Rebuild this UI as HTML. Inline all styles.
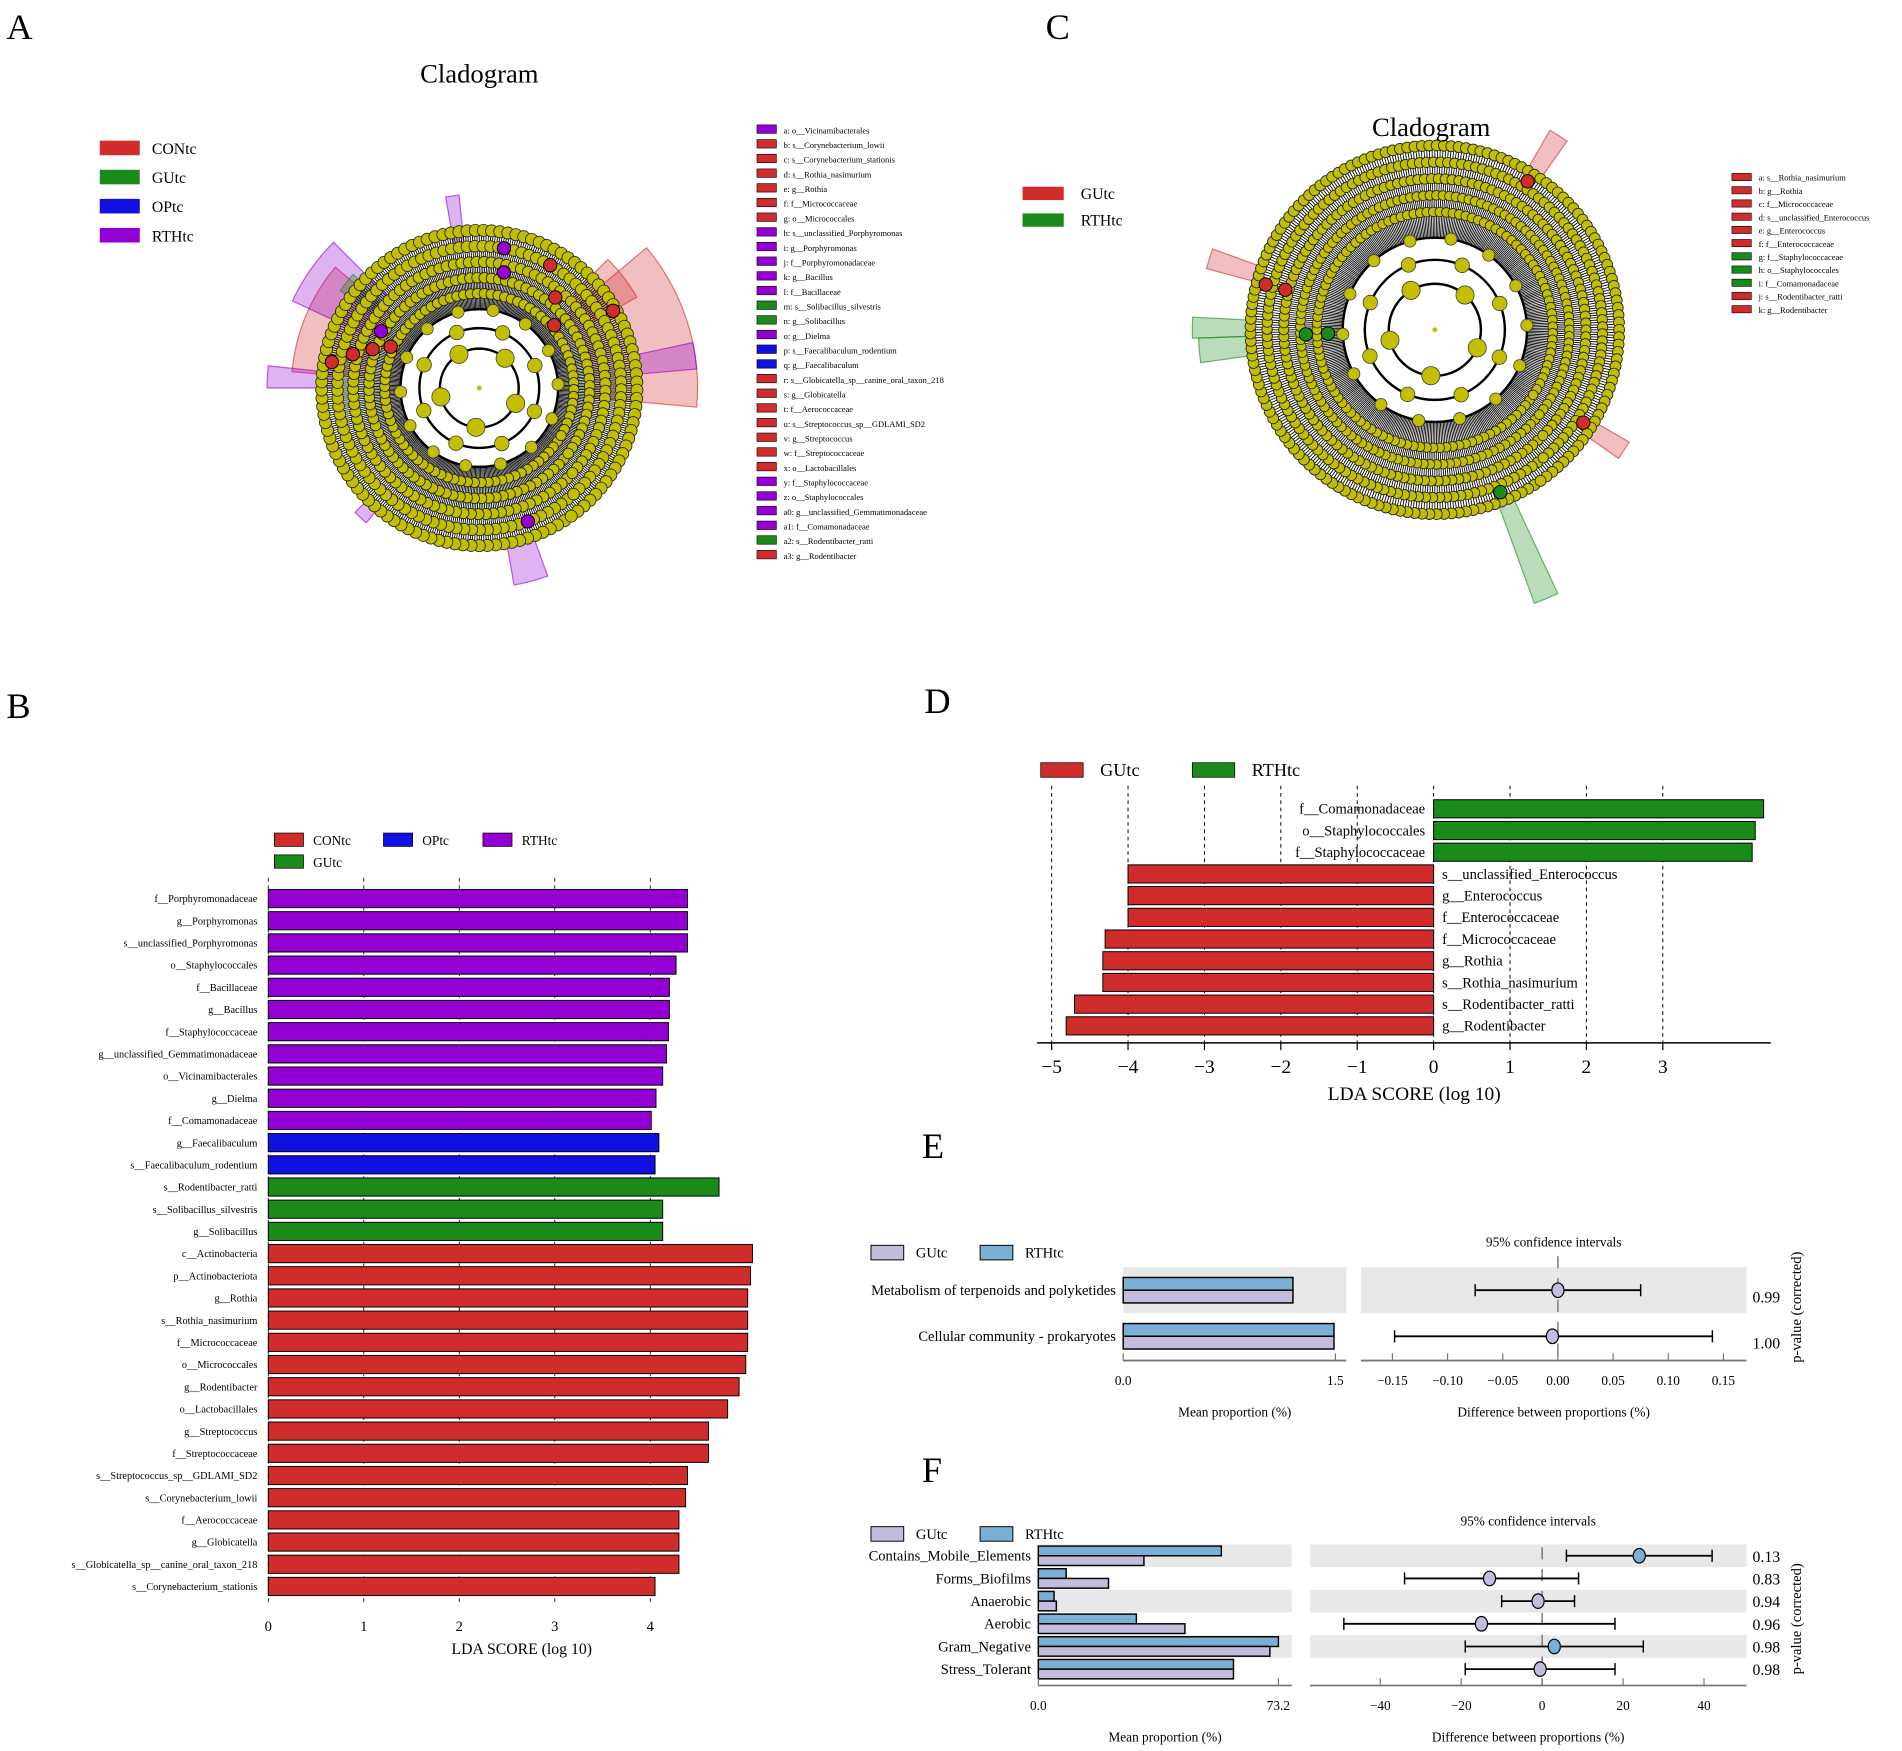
<!DOCTYPE html>
<html><head><meta charset="utf-8"><style>
html,body{margin:0;padding:0;background:#fff}
svg{display:block;font-family:"Liberation Serif",serif}
</style></head><body>
<svg id="s" width="1902" height="1751" viewBox="0 0 1568 1444" xmlns="http://www.w3.org/2000/svg">
<rect width="1568" height="1444" fill="#fff"/>
<g font-size="30">
<text x="5" y="32">A</text>
<text x="862" y="32">C</text>
<text x="5" y="592">B</text>
<text x="762" y="588">D</text>
<text x="760" y="955">E</text>
<text x="760" y="1222">F</text>
</g>
<g id="gA"></g>
<g id="gC"></g>
<text x="395" y="68" font-size="22" text-anchor="middle">Cladogram</text>
<text x="1180" y="112" font-size="22" text-anchor="middle">Cladogram</text>
<g id="gB"></g>
<g id="gD"></g>
<g id="gE"></g>
<g id="gF"></g>
</svg>
<script>
// ---- Panel B data
const bLabels=["f__Porphyromonadaceae","g__Porphyromonas","s__unclassified_Porphyromonas","o__Staphylococcales","f__Bacillaceae","g__Bacillus","f__Staphylococcaceae","g__unclassified_Gemmatimonadaceae","o__Vicinamibacterales","g__Dielma","f__Comamonadaceae","g__Faecalibaculum","s__Faecalibaculum_rodentium","s__Rodentibacter_ratti","s__Solibacillus_silvestris","g__Solibacillus","c__Actinobacteria","p__Actinobacteriota","g__Rothia","s__Rothia_nasimurium","f__Micrococcaceae","o__Micrococcales","g__Rodentibacter","o__Lactobacillales","g__Streptococcus","f__Streptococcaceae","s__Streptococcus_sp__GDLAMI_SD2","s__Corynebacterium_lowii","f__Aerococcaceae","g__Globicatella","s__Globicatella_sp__canine_oral_taxon_218","s__Corynebacterium_stationis"];
const bValues=[4.39,4.39,4.39,4.27,4.2,4.2,4.19,4.17,4.13,4.06,4.01,4.09,4.05,4.72,4.13,4.13,5.07,5.05,5.02,5.02,5.02,5.0,4.93,4.81,4.61,4.61,4.39,4.37,4.3,4.3,4.3,4.05];
const bGroups=["RTHtc","RTHtc","RTHtc","RTHtc","RTHtc","RTHtc","RTHtc","RTHtc","RTHtc","RTHtc","RTHtc","OPtc","OPtc","GUtc","GUtc","GUtc","CONtc","CONtc","CONtc","CONtc","CONtc","CONtc","CONtc","CONtc","CONtc","CONtc","CONtc","CONtc","CONtc","CONtc","CONtc","CONtc"];
const bTicks=[0,1,2,3,4];
// ---- Panel D data
const dLabels=["f__Comamonadaceae","o__Staphylococcales","f__Staphylococcaceae","s__unclassified_Enterococcus","g__Enterococcus","f__Enterococcaceae","f__Micrococcaceae","g__Rothia","s__Rothia_nasimurium","s__Rodentibacter_ratti","g__Rodentibacter"];
const dValues=[4.32,4.21,4.17,-4.0,-4.0,-4.0,-4.3,-4.33,-4.33,-4.7,-4.81];
const dTicks=[-5,-4,-3,-2,-1,0,1,2,3];
// ---- Panel E data
const eLabels=["Metabolism of terpenoids and polyketides","Cellular community - prokaryotes"];
const eRTH=[1.2,1.49];
const eGU=[1.2,1.49];
const eDiff=[0.0,-0.005];
const eLow=[-0.075,-0.148];
const eHigh=[0.075,0.14];
const eP=["0.99","1.00"];
const eTicks=[-0.15,-0.10,-0.05,0.00,0.05,0.10,0.15];
// ---- Panel F data
const fLabels=["Contains_Mobile_Elements","Forms_Biofilms","Anaerobic","Aerobic","Gram_Negative","Stress_Tolerant"];
const fRTH=[55.8,8.5,4.8,29.9,73.2,59.5];
const fGU=[32.2,21.4,5.5,44.7,70.6,59.5];
const fDiff=[24,-13,-1,-15,3,-0.5];
const fLow=[6,-34,-10,-49,-19,-19];
const fHigh=[42,9,8,18,25,18];
const fP=["0.13","0.83","0.94","0.96","0.98","0.98"];
const fTicks=[-40,-20,0,20,40];
// ---- Cladogram legends
const aLegend=["a: o__Vicinamibacterales","b: s__Corynebacterium_lowii","c: s__Corynebacterium_stationis","d: s__Rothia_nasimurium","e: g__Rothia","f: f__Micrococcaceae","g: o__Micrococcales","h: s__unclassified_Porphyromonas","i: g__Porphyromonas","j: f__Porphyromonadaceae","k: g__Bacillus","l: f__Bacillaceae","m: s__Solibacillus_silvestris","n: g__Solibacillus","o: g__Dielma","p: s__Faecalibaculum_rodentium","q: g__Faecalibaculum","r: s__Globicatella_sp__canine_oral_taxon_218","s: g__Globicatella","t: f__Aerococcaceae","u: s__Streptococcus_sp__GDLAMI_SD2","v: g__Streptococcus","w: f__Streptococcaceae","x: o__Lactobacillales","y: f__Staphylococcaceae","z: o__Staphylococcales","a0: g__unclassified_Gemmatimonadaceae","a1: f__Comamonadaceae","a2: s__Rodentibacter_ratti","a3: g__Rodentibacter"];
const aLegendCol=["p","r","r","r","r","r","r","p","p","p","p","p","g","g","p","b","b","r","r","r","r","r","r","r","p","p","p","p","g","r"];
const cLegend=["a: s__Rothia_nasimurium","b: g__Rothia","c: f__Micrococcaceae","d: s__unclassified_Enterococcus","e: g__Enterococcus","f: f__Enterococcaceae","g: f__Staphylococcaceae","h: o__Staphylococcales","i: f__Comamonadaceae","j: s__Rodentibacter_ratti","k: g__Rodentibacter"];
const cLegendCol=["r","r","r","r","r","r","g","g","g","r","r"];

const NS="http://www.w3.org/2000/svg";
const COL={CONtc:"#d12c2c",GUtc:"#1a8a1a",OPtc:"#1010e0",RTHtc:"#9400d3",r:"#d12c2c",g:"#1a8a1a",b:"#1010e0",p:"#9400d3"};
function mk(p,t,a,txt){const e=document.createElementNS(NS,t);for(const k in a)e.setAttribute(k,a[k]);if(txt!==undefined)e.textContent=txt;p.appendChild(e);return e;}

// ===== Panel B
(function(){
const g=document.getElementById('gB');
const x0=221,ux=78.75,y0=741,dy=18.3,bh=15;
const X=v=>x0+v*ux, Y=i=>y0+i*dy;
bTicks.forEach(t=>{
 let l=mk(g,'line',{x1:X(t),x2:X(t),y1:724,y2:1322,stroke:'#000','stroke-dasharray':'3,3','stroke-width':0.7});
 
 let tx=mk(g,'text',{x:X(t),y:1345,'font-size':12,'text-anchor':'middle'},t);
 
});
bLabels.forEach((lab,i)=>{
 let r=mk(g,'rect',{x:x0,y:Y(i)-bh/2,width:X(bValues[i])-x0,height:bh,fill:COL[bGroups[i]],stroke:'#000','stroke-width':0.8});
 
 let t=mk(g,'text',{x:212,y:Y(i)+3,'font-size':8.5,'text-anchor':'end'},lab);
 
});
let tt=mk(g,'text',{x:430,y:1364,'font-size':13,'text-anchor':'middle'},'LDA SCORE (log 10)');

[["CONtc",226,693],["OPtc",316,693],["RTHtc",398,693],["GUtc",226,711]].forEach(([n,x,y])=>{
 let r=mk(g,'rect',{x:x,y:y-6,width:24,height:11,fill:COL[n],stroke:'#000','stroke-width':0.6});
 
 let t=mk(g,'text',{x:x+32,y:y+4,'font-size':11},n);
 
});
})();

// ===== Panel D
(function(){
const g=document.getElementById('gD');
const x0=1182,ux=63,y0=667,dy=17.9,bh=15;
const X=v=>x0+v*ux,Y=i=>y0+i*dy;
dTicks.forEach(t=>{
 let l=mk(g,'line',{x1:X(t),x2:X(t),y1:648,y2:860,stroke:'#000','stroke-dasharray':'3,3','stroke-width':0.8});
 
 mk(g,'line',{x1:X(t),x2:X(t),y1:860,y2:866,stroke:'#000'});
 let tx=mk(g,'text',{x:X(t),y:885,'font-size':16,'text-anchor':'middle'},t<0?'\u2212'+(-t):t);
 
});
mk(g,'line',{x1:855,x2:1460,y1:860,y2:860,stroke:'#000','stroke-width':1.2});
dLabels.forEach((lab,i)=>{
 const v=dValues[i];
 let r=mk(g,'rect',{x:Math.min(X(0),X(v)),y:Y(i)-bh/2,width:Math.abs(X(v)-X(0)),height:bh,fill:v>0?'#1a8a1a':'#d12c2c',stroke:'#000','stroke-width':0.8});
 
 let t=mk(g,'text',{x:v>0?1175:1189,y:Y(i)+4,'font-size':12,'text-anchor':v>0?'end':'start'},lab);
 
});
let tt=mk(g,'text',{x:1166,y:907,'font-size':16,'text-anchor':'middle'},'LDA SCORE (log 10)');

[["GUtc",858,'#d12c2c'],["RTHtc",983,'#1a8a1a']].forEach(([n,x,c])=>{
 let r=mk(g,'rect',{x:x,y:629,width:35,height:12,fill:c,stroke:'#000','stroke-width':0.6});
 
 let t=mk(g,'text',{x:x+49,y:640,'font-size':15},n);
 
});
})();

// ===== Extended error bar helper
function ebPlot(g,cfg){
 const {labels,rth,gu,diff,low,high,pv,ticks,mx0,mx1,mmax,mLabel,dx0,dx1,dmin,dmax,rowY,dy,bh,tickFmt,ciY,legY,labFs,axY,dzeroTop}=cfg;
 const MX=v=>mx0+v/mmax*(mx1-mx0);
 const DX=v=>dx0+(v-dmin)/(dmax-dmin)*(dx1-dx0);
 const Y=i=>rowY+i*dy;
 labels.forEach((lab,i)=>{
  if(i%2===0){
   mk(g,'rect',{x:cfg.bandL0,y:Y(i)-dy/2,width:cfg.bandL1-cfg.bandL0,height:dy,fill:'#e8e8e8'});
   mk(g,'rect',{x:cfg.bandR0,y:Y(i)-dy/2,width:cfg.bandR1-cfg.bandR0,height:dy,fill:'#e8e8e8'});
  }
 });
 mk(g,'line',{x1:DX(0),x2:DX(0),y1:dzeroTop,y2:axY,stroke:'#777','stroke-width':1.2,'stroke-dasharray':'10,8'});
 labels.forEach((lab,i)=>{
  let r1=mk(g,'rect',{x:mx0,y:Y(i)-bh,width:MX(rth[i])-mx0,height:bh,fill:'#7bafd4',stroke:'#000','stroke-width':1.2});
  
  let r2=mk(g,'rect',{x:mx0,y:Y(i),width:MX(gu[i])-mx0,height:bh,fill:'#c3bcdc',stroke:'#000','stroke-width':1.2});
  
  let t=mk(g,'text',{x:mx0-6,y:Y(i)+4,'font-size':labFs,'text-anchor':'end'},lab);
  
  let l=mk(g,'line',{x1:DX(low[i]),x2:DX(high[i]),y1:Y(i),y2:Y(i),stroke:'#000','stroke-width':1.5});
  
  mk(g,'line',{x1:DX(low[i]),x2:DX(low[i]),y1:Y(i)-5,y2:Y(i)+5,stroke:'#000','stroke-width':1.2});
  mk(g,'line',{x1:DX(high[i]),x2:DX(high[i]),y1:Y(i)-5,y2:Y(i)+5,stroke:'#000','stroke-width':1.2});
  let c=mk(g,'ellipse',{cx:DX(diff[i]),cy:Y(i),rx:5,ry:6,fill:diff[i]>0?'#7bafd4':'#c3bcdc',stroke:'#000','stroke-width':1});
  
  let p=mk(g,'text',{x:1445,y:Y(i)+cfg.pOff,'font-size':13},pv[i]);
  
 });
 mk(g,'line',{x1:cfg.bandL0,x2:cfg.bandL1,y1:axY,y2:axY,stroke:'#777','stroke-width':1.5});
 mk(g,'line',{x1:cfg.bandR0,x2:cfg.bandR1,y1:axY,y2:axY,stroke:'#777','stroke-width':1.5});
 mLabel.forEach(v=>{
  mk(g,'line',{x1:MX(v),x2:MX(v),y1:axY-6,y2:axY,stroke:'#777'});
  let t=mk(g,'text',{x:MX(v),y:axY+20,'font-size':11,'text-anchor':'middle'},v===0?'0.0':String(v));
  
 });
 ticks.forEach(v=>{
  mk(g,'line',{x1:DX(v),x2:DX(v),y1:axY-6,y2:axY,stroke:'#777'});
  let t=mk(g,'text',{x:DX(v),y:axY+20,'font-size':11,'text-anchor':'middle'},tickFmt(v));
  
 });
 let a=mk(g,'text',{x:(cfg.bandL0+cfg.bandL1)/2,y:axY+46,'font-size':11,'text-anchor':'middle'},'Mean proportion (%)');
 
 let b=mk(g,'text',{x:(cfg.bandR0+cfg.bandR1)/2,y:axY+46,'font-size':11,'text-anchor':'middle'},'Difference between proportions (%)');
 
 let c=mk(g,'text',{x:(cfg.bandR0+cfg.bandR1)/2,y:ciY,'font-size':11,'text-anchor':'middle'},'95% confidence intervals');
 
 let pv2=mk(g,'text',{x:0,y:0,'font-size':12,'text-anchor':'middle',transform:`translate(1485,${cfg.pvY}) rotate(-90)`},'p-value (corrected)');
 
 [['GUtc',cfg.legX,'#c3bcdc'],['RTHtc',cfg.legX+90,'#7bafd4']].forEach(([n,x,col])=>{
  let r=mk(g,'rect',{x:x,y:legY-6,width:27,height:12,fill:col,stroke:'#000','stroke-width':0.8});
  
  let t=mk(g,'text',{x:x+37,y:legY+4,'font-size':12},n);
  
 });
}
ebPlot(document.getElementById('gE'),{labels:eLabels,rth:eRTH,gu:eGU,diff:eDiff,low:eLow,high:eHigh,pv:eP,ticks:eTicks,
 mx0:926,mx1:1101,mmax:1.5,mLabel:[0,1.5],dx0:1148,dx1:1421,dmin:-0.15,dmax:0.15,rowY:1064,dy:38,bh:10.5,
 tickFmt:v=>(v<0?'\u2212':'')+Math.abs(v).toFixed(2),ciY:1028,legY:1033,labFs:12,axY:1122,dzeroTop:1036,
 bandL0:926,bandL1:1110,bandR0:1122,bandR1:1440,pOff:10,pvY:1078,legX:718});
ebPlot(document.getElementById('gF'),{labels:fLabels,rth:fRTH,gu:fGU,diff:fDiff,low:fLow,high:fHigh,pv:fP,ticks:fTicks,
 mx0:856,mx1:1054,mmax:73.2,mLabel:[0,73.2],dx0:1138,dx1:1405,dmin:-40,dmax:40,rowY:1283,dy:18.7,bh:8,
 tickFmt:v=>(v<0?'\u2212':'')+Math.abs(v),ciY:1258,legY:1265,labFs:12,axY:1390,dzeroTop:1276,
 bandL0:856,bandL1:1065,bandR0:1080,bandR1:1440,pOff:5,pvY:1335,legX:718});

// ===== Cladograms
function clad(g,cx,cy,R,rings,hl,nodes){
 hl.forEach(([a0,a1,r0,r1,col])=>{
  const p=(a,r)=>[cx+r*Math.cos(a*Math.PI/180),cy+r*Math.sin(a*Math.PI/180)];
  const [x1,y1]=p(a0,r0),[x2,y2]=p(a1,r0),[x3,y3]=p(a1,r1),[x4,y4]=p(a0,r1);
  let s=mk(g,'path',{d:`M${x1},${y1}A${r0},${r0} 0 0 1 ${x2},${y2}L${x3},${y3}A${r1},${r1} 0 0 0 ${x4},${y4}Z`,fill:col,'fill-opacity':0.3,stroke:col,'stroke-opacity':0.6});
  
 });
 for(let k=0;k<420;k++){const a=k/420*2*Math.PI;
  mk(g,'line',{x1:cx+R*0.5*Math.cos(a),y1:cy+R*0.5*Math.sin(a),x2:cx+R*Math.cos(a),y2:cy+R*Math.sin(a),stroke:'#000','stroke-width':0.7});}
 rings.forEach(([f,dr])=>{
  const r=R*f;mk(g,'circle',{cx:cx,cy:cy,r:r,fill:'none',stroke:'#000','stroke-width':1});
  const n=Math.floor(2*Math.PI*r/(dr*1.35));
  for(let k=0;k<n;k++){const a=k/n*2*Math.PI+f;
   mk(g,'circle',{cx:cx+r*Math.cos(a),cy:cy+r*Math.sin(a),r:dr,fill:'#c2be00',stroke:'#222','stroke-width':0.7});}
 });
 [[0.5,5,14],[0.38,6,8],[0.25,7.5,5]].forEach(([f,dr,n])=>{
  mk(g,'circle',{cx:cx,cy:cy,r:R*f,fill:'none',stroke:'#000','stroke-width':2});
  for(let k=0;k<n;k++){const a=k/n*2*Math.PI+0.4;mk(g,'circle',{cx:cx+R*f*Math.cos(a),cy:cy+R*f*Math.sin(a),r:dr,fill:'#c2be00',stroke:'#333','stroke-width':0.6});}
 });
 mk(g,'circle',{cx:cx,cy:cy,r:2,fill:'#c2be00'});
 nodes.forEach(([a,f,col])=>{const t=a*Math.PI/180;
  let c=mk(g,'circle',{cx:cx+R*f*Math.cos(t),cy:cy+R*f*Math.sin(t),r:5.5,fill:col,stroke:'#000','stroke-width':0.8});
  });
}
clad(document.getElementById('gA'),395,320,130,[[1,5],[0.9,4.8],[0.8,4.6],[0.7,4.4],[0.6,4.2]],
 [[-40,5,90,180,'#d12c2c'],[-45,-30,110,150,'#d12c2c'],[185,220,90,155,'#d12c2c'],[205,225,100,170,'#9400d3'],[180,186,120,175,'#9400d3'],[-12,-5,130,180,'#9400d3'],[70,80,130,165,'#9400d3'],[-100,-96,120,160,'#9400d3'],[215,222,110,140,'#1a8a1a'],[130,135,130,145,'#9400d3']],
 [[190,0.95,'#d12c2c'],[195,0.83,'#d12c2c'],[200,0.72,'#d12c2c'],[205,0.62,'#d12c2c'],[-60,0.9,'#d12c2c'],[-50,0.75,'#d12c2c'],[-40,0.62,'#d12c2c'],[-80,0.9,'#9400d3'],[-78,0.75,'#9400d3'],[210,0.72,'#9400d3'],[70,0.9,'#9400d3'],[-30,0.98,'#d12c2c']]);
clad(document.getElementById('gC'),1183,272,152,[[1,4.5],[0.91,4.3],[0.82,4.2],[0.73,4],[0.64,4]],
 [[178,183,152,200,'#1a8a1a'],[172,178,152,195,'#1a8a1a'],[65,70,152,240,'#1a8a1a'],[195,200,152,195,'#d12c2c'],[-60,-55,152,190,'#d12c2c'],[30,35,152,185,'#d12c2c']],
 [[195,0.95,'#d12c2c'],[195,0.84,'#d12c2c'],[178,0.7,'#1a8a1a'],[178,0.58,'#1a8a1a'],[68,0.95,'#1a8a1a'],[-58,0.95,'#d12c2c'],[32,0.95,'#d12c2c']]);

(function(){
 const gA=document.getElementById('gA');
 [["CONtc","#d12c2c"],["GUtc","#1a8a1a"],["OPtc","#1010e0"],["RTHtc","#9400d3"]].forEach(([n,c],i)=>{
  let r=mk(gA,'rect',{x:82,y:116+i*24,width:33,height:12,fill:c});
  
  let t=mk(gA,'text',{x:125,y:127+i*24,'font-size':13},n);
  
 });
 aLegend.forEach((s,i)=>{
  let r=mk(gA,'rect',{x:624,y:103+i*12.1,width:16,height:7,fill:COL[aLegendCol[i]],stroke:'#000','stroke-width':0.5});
  
  let t=mk(gA,'text',{x:646,y:110+i*12.1,'font-size':7},s);
  
 });
 const gC=document.getElementById('gC');
 [["GUtc","#d12c2c"],["RTHtc","#1a8a1a"]].forEach(([n,c],i)=>{
  let r=mk(gC,'rect',{x:843,y:154+i*22,width:34,height:11,fill:c});
  
  let t=mk(gC,'text',{x:891,y:164+i*22,'font-size':13},n);
  
 });
 cLegend.forEach((s,i)=>{
  let r=mk(gC,'rect',{x:1428,y:143+i*10.9,width:16,height:6,fill:COL[cLegendCol[i]],stroke:'#000','stroke-width':0.5});
  
  let t=mk(gC,'text',{x:1450,y:149+i*10.9,'font-size':7},s);
  
 });
})();
</script>
</body></html>
